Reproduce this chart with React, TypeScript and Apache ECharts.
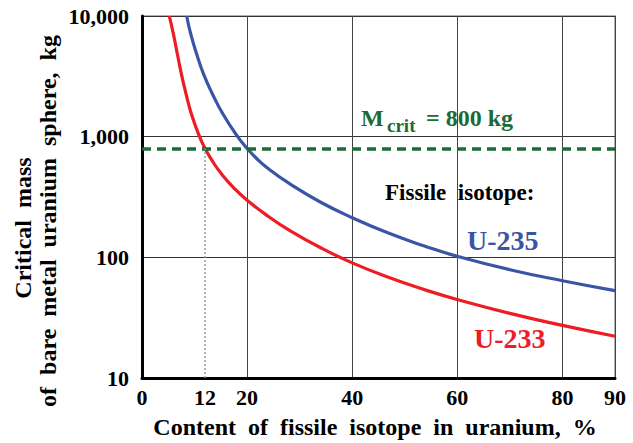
import React, { useEffect, useRef } from "react";
import * as echarts from "echarts";

const xU233 = [5.2, 5.97, 6.73, 7.49, 8.38, 9.4, 10.95, 12, 13.5, 15, 17.5, 20, 24, 28, 34, 40, 47, 54, 60, 70, 80, 90];
const yU233 = [10000, 7100, 4840, 3310, 2260, 1540, 1000, 800, 617, 499, 375, 297, 219, 168, 120, 90, 68, 53.5, 44.7, 34.3, 27.3, 22.2];
const xU235 = [8.5, 9.27, 10.4, 11.7, 13.4, 15.4, 18.2, 20, 22, 24, 28, 34, 40, 47, 54, 60, 70, 80, 90];
const yU235 = [10000, 7100, 4840, 3310, 2260, 1540, 1000, 800, 647, 544, 410, 286, 213, 158, 123, 102, 79, 64, 53];
const xTickLabels = [0, 12, 20, 40, 60, 80, 90];
const critMass = 800;
const markX = 12;

const FONT = "Liberation Serif";

const txt = (text: string, size: number, color: string, extra: any = {}) => ({
  text,
  fontFamily: FONT,
  fontWeight: "bold",
  fontSize: size,
  fill: color,
  align: "left",
  verticalAlign: "middle",
  ...extra,
});

export default function App() {
  const ref = useRef<HTMLDivElement>(null);
  useEffect(() => {
    document.body.style.margin = "0";
    const chart = echarts.init(ref.current!, null, { renderer: "svg" });
    const zip = (xs: number[], ys: number[]) => xs.map((x, i) => [x, ys[i]]);
    chart.setOption({
      animation: false,
      grid: {
        left: 142,
        right: 18,
        top: 16,
        bottom: 65,
        show: true,
        borderColor: "#999",
        borderWidth: 1.5,
      },
      xAxis: {
        type: "value",
        min: 0,
        max: 90,
        interval: 20,
        axisLine: { show: true, lineStyle: { color: "#000", width: 3 } },
        axisTick: { show: false },
        splitLine: { show: true, lineStyle: { color: "#444", width: 1 } },
        axisLabel: {
          customValues: xTickLabels,
          color: "#000",
          fontFamily: FONT,
          fontWeight: "bold",
          fontSize: 22,
          margin: 8,
        },
      },
      yAxis: {
        type: "log",
        logBase: 10,
        min: 10,
        max: 10000,
        axisLine: { show: true, lineStyle: { color: "#000", width: 3 } },
        axisTick: { show: false },
        splitLine: { show: true, lineStyle: { color: "#333", width: 1 } },
        axisLabel: {
          color: "#000",
          fontFamily: FONT,
          fontWeight: "bold",
          fontSize: 22,
          margin: 13,
          formatter: (v: number) => v.toLocaleString("en-US"),
        },
      },
      series: [
        {
          type: "line",
          name: "U-233",
          data: zip(xU233, yU233),
          smooth: 0.5,
          symbol: "none",
          lineStyle: { color: "#ee1c25", width: 3.2 },
          z: 3,
        },
        {
          type: "line",
          name: "U-235",
          data: zip(xU235, yU235),
          smooth: 0.5,
          symbol: "none",
          lineStyle: { color: "#3a55a5", width: 3.2 },
          z: 3,
        },
        {
          type: "line",
          name: "marks",
          data: [],
          z: 4,
          markLine: {
            silent: true,
            symbol: "none",
            label: { show: false },
            animation: false,
            data: [
              {
                yAxis: critMass,
                lineStyle: { color: "#1a6b35", type: [9, 6], width: 3.5 },
              },
              [
                { coord: [markX, 10], lineStyle: { color: "#999", type: [2, 2], width: 1.5 } },
                { coord: [markX, critMass] },
              ],
            ],
          },
        },
      ],
      graphic: [
        {
          type: "text",
          x: 23,
          y: 228,
          rotation: Math.PI / 2,
          style: txt("Critical  mass", 24, "#000", { align: "center" }),
        },
        {
          type: "text",
          x: 48,
          y: 221,
          rotation: Math.PI / 2,
          style: txt("of  bare  metal  uranium  sphere,  kg", 24, "#000", { align: "center" }),
        },
        {
          type: "text",
          x: 375,
          y: 427,
          style: txt("Content  of  fissile  isotope  in  uranium,  %", 24, "#000", { align: "center" }),
        },
        { type: "text", x: 361, y: 118, style: txt("M", 24, "#1a6b35") },
        { type: "text", x: 387, y: 125, style: txt("crit", 19, "#1a6b35") },
        { type: "text", x: 426, y: 118, style: txt("= 800 kg", 24, "#1a6b35") },
        { type: "text", x: 385, y: 192, style: txt("Fissile  isotope:", 23, "#000") },
        { type: "text", x: 467, y: 240, style: txt("U-235", 28, "#3a55a5") },
        { type: "text", x: 474, y: 338, style: txt("U-233", 28, "#ee1c25") },
      ],
    });
    return () => chart.dispose();
  }, []);
  return <div ref={ref} style={{ width: 633, height: 443 }} />;
}
